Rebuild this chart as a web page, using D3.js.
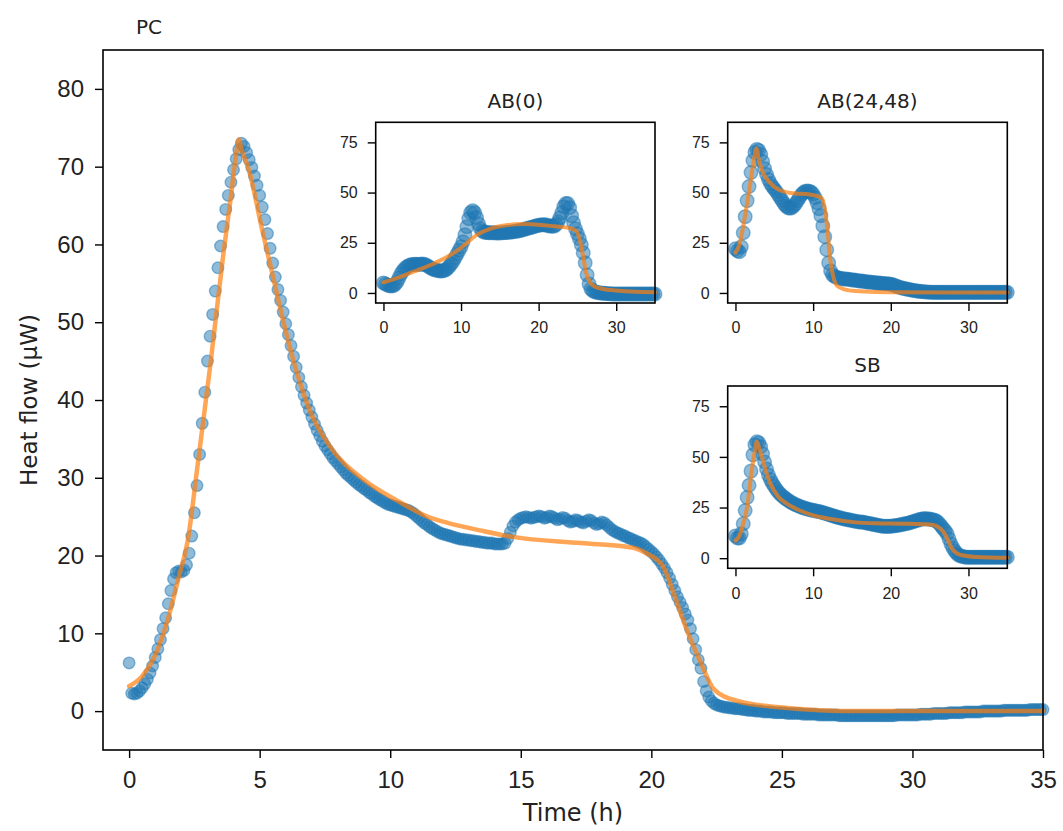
<!DOCTYPE html>
<html>
  <head>
    <meta charset="utf-8">
    <title>Heat flow fits</title>
    <script src="https://d3js.org/d3.v7.min.js"></script>
    <style>
      body { margin: 0; background: #fff; }
      svg { font-family: "DejaVu Sans", sans-serif; }
      .frame { fill: none; stroke: #000; stroke-width: 1.6; }
      .axis .domain { display: none; }
      .axis line { stroke: #000; stroke-width: 1.4; }
      .axis text { fill: #222; }
      .dot { fill: #1f77b4; fill-opacity: 0.5; stroke: #1f77b4; stroke-opacity: 0.5; stroke-width: 1.4; }
      .fit { fill: none; stroke: #ff7f0e; stroke-opacity: 0.7; stroke-linecap: round; stroke-linejoin: round; }
    </style>
  </head>
  <body>
    <svg id="chart" width="1063" height="831"></svg>
    <script>
      // measured heat flow, PC, one value every 0.1 h from 0 h
      pcStep = 0.1;
      pcValues = [
        6.2, 2.3, 2.2, 2.3, 2.6, 3.0, 3.5, 4.1, 4.9, 5.8,
        6.9, 8.0, 9.2, 10.6, 12.0, 13.8, 15.5, 17.0, 17.8, 18.0,
        17.9, 18.1, 18.8, 20.3, 22.5, 25.5, 29.0, 33.0, 37.0, 41.0,
        45.0, 48.2, 51.0, 54.0, 57.0, 59.8, 62.3, 64.5, 66.3, 68.0,
        69.6, 71.0, 72.2, 73.0, 72.6, 71.8, 70.9, 69.9, 68.8, 67.6,
        66.3, 64.8, 63.2, 61.4, 59.5, 57.6, 55.8, 54.2, 52.8, 51.3,
        49.8, 48.4, 47.0, 45.6, 44.2, 42.9, 41.7, 40.6, 39.6, 38.7,
        37.8, 36.9, 36.1, 35.4, 34.7, 34.1, 33.6, 33.1, 32.6, 32.2,
        31.8, 31.4, 31.0, 30.6, 30.3, 30.0, 29.7, 29.4, 29.1, 28.9,
        28.6, 28.4, 28.1, 27.9, 27.6, 27.4, 27.2, 27.0, 26.8, 26.6,
        26.5, 26.4, 26.3, 26.2, 26.1, 26.0, 25.9, 25.8, 25.6, 25.4,
        25.1, 24.8, 24.5, 24.2, 24.0, 23.7, 23.5, 23.3, 23.1, 22.9,
        22.8, 22.7, 22.6, 22.5, 22.4, 22.3, 22.2, 22.1, 22.1, 22.0,
        22.0, 21.9, 21.9, 21.8, 21.8, 21.7, 21.7, 21.6, 21.6, 21.6,
        21.5, 21.5, 21.5, 21.5, 21.6, 22.2, 23.0, 23.8, 24.3, 24.6,
        24.8, 24.9, 25.0, 24.9, 24.8, 24.9, 25.0, 25.1, 25.0, 24.8,
        24.9, 25.1, 25.0, 24.8, 24.6, 24.7, 24.9, 24.8, 24.5, 24.3,
        24.4, 24.6, 24.5, 24.3, 24.2, 24.4, 24.6, 24.5, 24.2, 24.0,
        24.1, 24.3, 24.2, 23.9, 23.6, 23.3, 23.1, 22.9, 22.8, 22.6,
        22.5, 22.3, 22.2, 22.0, 21.9, 21.7, 21.6, 21.4, 21.1, 20.8,
        20.5, 20.2, 19.8, 19.4, 18.9, 18.4, 17.8, 17.1, 16.3, 15.5,
        14.7, 14.0, 13.3, 12.5, 11.7, 10.6, 9.3, 7.9, 6.6, 5.5,
        3.8, 2.6, 1.8, 1.3, 1.0, 0.8, 0.7, 0.6, 0.5, 0.5,
        0.4, 0.4, 0.3, 0.3, 0.3, 0.2, 0.2, 0.1, 0.1, 0.1,
        0.0, 0.0, 0.0, -0.1, -0.1, -0.1, -0.1, -0.2, -0.2, -0.2,
        -0.2, -0.2, -0.3, -0.3, -0.3, -0.3, -0.3, -0.3, -0.4, -0.4,
        -0.4, -0.4, -0.4, -0.4, -0.5, -0.5, -0.5, -0.5, -0.5, -0.5,
        -0.5, -0.5, -0.6, -0.6, -0.6, -0.6, -0.6, -0.6, -0.6, -0.6,
        -0.6, -0.6, -0.6, -0.6, -0.6, -0.6, -0.6, -0.6, -0.6, -0.6,
        -0.6, -0.6, -0.6, -0.6, -0.5, -0.5, -0.5, -0.5, -0.5, -0.5,
        -0.5, -0.5, -0.5, -0.4, -0.4, -0.4, -0.4, -0.4, -0.3, -0.3,
        -0.3, -0.3, -0.3, -0.3, -0.2, -0.2, -0.2, -0.2, -0.2, -0.2,
        -0.1, -0.1, -0.1, -0.1, -0.1, -0.1, -0.1, 0.0, 0.0, 0.0,
        0.0, 0.0, 0.0, 0.0, 0.0, 0.1, 0.1, 0.1, 0.1, 0.1,
        0.1, 0.1, 0.1, 0.1, 0.1, 0.2, 0.2, 0.2, 0.2, 0.2,
        0.2
      ];
      // fitted curve, PC
      pcFitTime = [0, 0.5, 1.0, 1.5, 1.9, 2.25, 2.6, 3.1, 3.6, 3.9, 4.1, 4.2, 4.3, 4.6, 5.1, 5.5, 5.9, 6.4, 6.9, 7.7, 9.0, 10.25, 11.5, 12.2, 13.5, 14.7, 17.3, 19.3, 19.8, 20.45, 20.85, 21.35, 21.9, 22.4, 23.3, 24.9, 28, 35];
      pcFitValue = [3.2, 4.5, 7.2, 12.0, 17.2, 22.0, 31.0, 44.2, 58.5, 66.2, 71.6, 73.5, 72.3, 69.4, 61.8, 56.0, 50.2, 43.8, 38.8, 34.0, 29.7, 27.1, 24.9, 24.2, 23.2, 22.4, 21.6, 21.0, 20.3, 18.6, 15.2, 10.5, 6.2, 2.8, 1.3, 0.5, 0.0, 0.0];

      // inset series, one value every 0.25 h from 0 h
      insetStep = 0.25;
      ab0Values = [
        5.0, 4.5, 4.0, 3.6, 3.5, 3.6, 4.3, 5.5, 7.5, 9.5, 11.0, 12.2,
        13.0, 13.6, 14.0, 14.2, 14.3, 14.3, 14.2, 14.3, 14.4, 14.3, 13.9, 13.3,
        12.7, 12.1, 11.7, 11.4, 11.2, 11.0, 11.0, 11.1, 11.5, 12.2, 13.3, 14.6,
        16.0, 17.6, 19.4, 21.3, 23.0, 25.5, 29.0, 33.0, 37.0, 40.0, 41.0, 40.0,
        37.5, 34.5, 32.0, 30.8, 30.3, 30.1, 30.0, 30.0, 30.0, 30.0, 29.9, 29.9,
        29.9, 30.0, 30.0, 30.1, 30.2, 30.3, 30.4, 30.5, 30.7, 30.8, 31.0, 31.2,
        31.5, 31.8, 32.1, 32.4, 32.6, 32.9, 33.2, 33.5, 33.7, 33.9, 34.0, 34.0,
        33.8, 33.5, 33.3, 33.2, 33.3, 34.0, 35.5, 37.5, 40.0, 43.0, 44.5, 44.5,
        42.5, 38.5, 35.0, 32.0, 29.5, 27.0, 24.0, 20.0, 15.0, 9.0, 4.5, 2.0,
        1.0, 0.6, 0.3, 0.1, 0.0, -0.1, -0.2, -0.3, -0.4, -0.4, -0.5, -0.5,
        -0.5, -0.5, -0.5, -0.5, -0.5, -0.5, -0.5, -0.5, -0.5, -0.5, -0.5, -0.5,
        -0.5, -0.5, -0.5, -0.5, -0.5, -0.5, -0.5, -0.5, -0.5
      ];
      ab0FitTime = [0, 2, 4, 6, 8, 10, 12, 14, 16, 18, 20, 22, 24, 24.8, 25.3, 25.7, 26.1, 26.6, 27.2, 28.3, 30, 32, 35];
      ab0FitValue = [5.3, 7.8, 10.8, 13.8, 17.5, 22.5, 28.8, 32.3, 33.8, 34.3, 34.0, 33.2, 32.3, 31.0, 26.5, 19.0, 10.3, 5.5, 3.2, 2.0, 1.2, 0.7, 0.3];

      ab2448Values = [
        22.0, 21.0, 20.5, 23.0, 30.0, 38.0, 46.0, 53.0, 60.0, 66.0, 70.0, 71.5,
        71.0, 69.0, 65.5, 62.0, 59.0, 56.5, 54.5, 53.0, 51.8, 50.5, 49.0, 47.5,
        46.0, 44.5, 43.3, 42.5, 42.2, 42.5, 43.3, 44.5, 46.0, 47.5, 49.0, 50.0,
        50.6, 50.8, 50.7, 50.2, 49.2, 47.5, 45.0, 42.0, 38.5, 33.5, 28.0, 21.5,
        15.0, 11.0, 9.0, 8.2, 7.8, 7.5, 7.3, 7.1, 7.0, 6.9, 6.8, 6.7,
        6.5, 6.4, 6.3, 6.1, 6.0, 5.9, 5.8, 5.6, 5.5, 5.4, 5.3, 5.2,
        5.1, 5.0, 4.9, 4.8, 4.7, 4.6, 4.6, 4.5, 4.4, 4.1, 3.7, 3.3,
        3.0, 2.7, 2.4, 2.2, 2.0, 1.8, 1.6, 1.4, 1.2, 1.1, 0.9, 0.8,
        0.7, 0.6, 0.5, 0.5, 0.4, 0.4, 0.3, 0.3, 0.3, 0.3, 0.3, 0.3,
        0.3, 0.3, 0.3, 0.3, 0.3, 0.3, 0.3, 0.3, 0.3, 0.3, 0.3, 0.3,
        0.3, 0.3, 0.3, 0.3, 0.3, 0.3, 0.3, 0.3, 0.3, 0.3, 0.3, 0.3,
        0.3, 0.3, 0.3, 0.3, 0.3, 0.3, 0.3, 0.3, 0.3
      ];
      ab2448FitTime = [0, 0.5, 1.3, 2.0, 2.45, 2.7, 3.0, 3.4, 4.5, 5.5, 6.2, 7.1, 9.6, 11.1, 11.5, 11.8, 12.2, 12.6, 13.1, 14.0, 16, 20, 35];
      ab2448FitValue = [20.1, 24.0, 39.9, 57.0, 68.0, 72.0, 66.5, 61.3, 54.7, 51.5, 50.6, 49.8, 49.0, 47.3, 42.0, 33.0, 16.8, 8.0, 3.5, 1.8, 0.8, 0.3, 0.2];

      sbValues = [
        11.0, 10.0, 10.0, 12.0, 17.0, 23.5, 30.0, 36.0, 43.0, 51.0, 56.0, 57.5,
        57.0, 55.0, 51.5, 47.5, 44.0, 41.0, 38.8, 37.0, 35.5, 34.0, 32.8, 31.7,
        30.8, 30.0, 29.3, 28.6, 28.0, 27.4, 26.9, 26.4, 26.0, 25.6, 25.2, 24.9,
        24.6, 24.3, 24.0, 23.8, 23.6, 23.4, 23.2, 23.0, 22.8, 22.5, 22.2, 21.9,
        21.6, 21.3, 21.0, 20.7, 20.4, 20.1, 19.9, 19.6, 19.4, 19.2, 19.0, 18.8,
        18.6, 18.4, 18.2, 18.0, 17.9, 17.8, 17.7, 17.5, 17.3, 17.1, 16.9, 16.7,
        16.5, 16.3, 16.1, 15.9, 15.8, 15.7, 15.7, 15.7, 15.8, 15.9, 16.0, 16.1,
        16.3, 16.5, 16.7, 16.9, 17.1, 17.3, 17.6, 17.9, 18.2, 18.5, 18.8, 19.1,
        19.3, 19.5, 19.5, 19.4, 19.3, 19.1, 18.9, 18.6, 18.0, 17.0, 15.8, 14.5,
        13.5, 12.0, 9.5, 7.0, 5.0, 3.5, 2.3, 1.5, 1.1, 0.8, 0.6, 0.5,
        0.5, 0.5, 0.5, 0.5, 0.5, 0.5, 0.5, 0.5, 0.5, 0.5, 0.5, 0.5,
        0.5, 0.5, 0.5, 0.5, 0.5, 0.5, 0.5, 0.5, 0.5
      ];
      sbFitTime = [0, 0.5, 1.0, 1.5, 2.1, 2.5, 2.75, 3.0, 3.4, 4.0, 4.5, 5.5, 6.6, 8, 10, 12.5, 15.2, 18, 21.6, 25.0, 25.8, 26.4, 26.8, 27.4, 27.9, 28.6, 29.4, 31, 35];
      sbFitValue = [8.7, 11.0, 17.0, 25.2, 43.4, 53.0, 57.5, 55.0, 50.0, 42.0, 36.8, 30.5, 26.9, 24.0, 21.1, 19.2, 17.8, 17.2, 17.0, 16.6, 16.0, 14.5, 12.9, 8.5, 4.6, 2.2, 1.3, 0.6, 0.2];

      // ticks
      mainXTicks = [0, 5, 10, 15, 20, 25, 30, 35];
      mainYTicks = [0, 10, 20, 30, 40, 50, 60, 70, 80];
      insetXTicks = [0, 10, 20, 30];
      insetYTicks = [0, 25, 50, 75];

      chart = d3.select("#chart");

      function toPoints(values, step) {
        return values.map(function(v, i) { return { t: i * step, v: v }; });
      }
      function toPairs(times, values) {
        return times.map(function(t, i) { return { t: t, v: values[i] }; });
      }

      function drawPanel(opt) {
        var x = d3.scaleLinear().domain([-1, 35]).range([opt.left, opt.right]);
        var y = d3.scaleLinear().domain([-5, 85]).range([opt.bottom, opt.top]);
        var g = chart.append("g");
        g.append("rect")
          .attr("fill", "#fff")
          .attr("x", opt.left).attr("y", opt.top)
          .attr("width", opt.right - opt.left).attr("height", opt.bottom - opt.top);
        // scatter
        g.append("g")
          .selectAll("circle")
            .data(opt.points)
          .enter().append("circle")
            .attr("class", "dot")
            .attr("cx", function(d) { return x(d.t); })
            .attr("cy", function(d) { return y(d.v); })
            .attr("r", opt.r);
        // fit
        var line = d3.line()
          .curve(d3.curveMonotoneX)
          .x(function(d) { return x(d.t); })
          .y(function(d) { return y(d.v); });
        g.append("path")
          .datum(opt.fit)
          .attr("class", "fit")
          .attr("stroke-width", opt.lineWidth)
          .attr("d", line);
        // axes
        var xAxis = d3.axisBottom(x).tickValues(opt.xTicks).tickFormat(d3.format("d"))
          .tickSizeInner(opt.tick).tickSizeOuter(0).tickPadding(opt.padX);
        var yAxis = d3.axisLeft(y).tickValues(opt.yTicks).tickFormat(d3.format("d"))
          .tickSizeInner(opt.tick).tickSizeOuter(0).tickPadding(opt.padY);
        g.append("g").attr("class", "axis")
          .attr("transform", "translate(0," + opt.bottom + ")")
          .call(xAxis)
          .selectAll("text").style("font-size", opt.fontSize + "px");
        g.append("g").attr("class", "axis")
          .attr("transform", "translate(" + opt.left + ",0)")
          .call(yAxis)
          .selectAll("text").style("font-size", opt.fontSize + "px");
        g.append("rect")
          .attr("class", "frame")
          .attr("x", opt.left).attr("y", opt.top)
          .attr("width", opt.right - opt.left).attr("height", opt.bottom - opt.top);
        if (opt.title) {
          g.append("text")
            .attr("x", (opt.left + opt.right) / 2)
            .attr("y", opt.top - 14)
            .attr("text-anchor", "middle")
            .style("font-size", "20px")
            .style("fill", "#222")
            .text(opt.title);
        }
      }

      // main panel
      drawPanel({
        left: 103, right: 1043, top: 50, bottom: 750,
        points: toPoints(pcValues, pcStep),
        fit: toPairs(pcFitTime, pcFitValue),
        r: 5.8, lineWidth: 4.5,
        xTicks: mainXTicks, yTicks: mainYTicks,
        tick: 8, padX: 13, padY: 11, fontSize: 24
      });
      chart.append("text")
        .attr("x", 136).attr("y", 34)
        .style("font-size", "20px").style("fill", "#222")
        .text("PC");
      chart.append("text")
        .attr("x", 573).attr("y", 821)
        .attr("text-anchor", "middle")
        .style("font-size", "24px").style("fill", "#222")
        .text("Time (h)");
      chart.append("text")
        .attr("transform", "translate(37,400) rotate(-90)")
        .attr("text-anchor", "middle")
        .style("font-size", "23px").style("fill", "#222")
        .text("Heat flow (µW)");

      // insets
      insetStyle = { r: 6.8, lineWidth: 4, xTicks: insetXTicks, yTicks: insetYTicks, tick: 8, padX: 11, padY: 10, fontSize: 16 };
      drawPanel(Object.assign({
        left: 375.7, right: 655, top: 122.3, bottom: 303, title: "AB(0)",
        points: toPoints(ab0Values, insetStep), fit: toPairs(ab0FitTime, ab0FitValue)
      }, insetStyle));
      drawPanel(Object.assign({
        left: 727.7, right: 1007.3, top: 122.3, bottom: 303, title: "AB(24,48)",
        points: toPoints(ab2448Values, insetStep), fit: toPairs(ab2448FitTime, ab2448FitValue)
      }, insetStyle));
      drawPanel(Object.assign({
        left: 727.7, right: 1007.3, top: 386, bottom: 568.3, title: "SB",
        points: toPoints(sbValues, insetStep), fit: toPairs(sbFitTime, sbFitValue)
      }, insetStyle));
    </script>
  </body>
</html>
